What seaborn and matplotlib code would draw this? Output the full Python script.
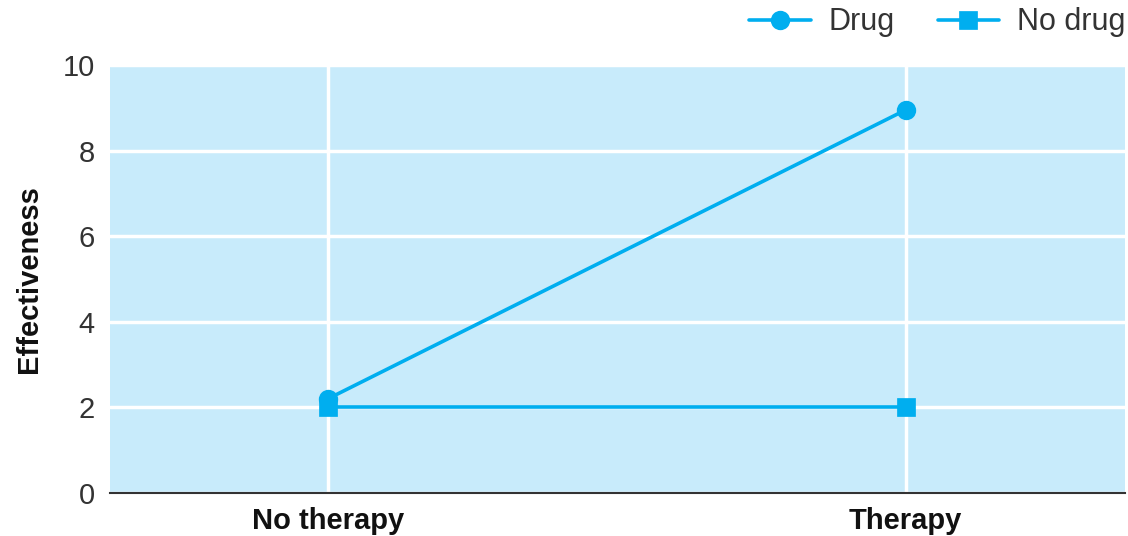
import numpy as np
import pandas as pd
import seaborn as sns
import matplotlib.pyplot as plt

# Date
conditii = ['No therapy', 'Therapy']
grupuri = ['Drug', 'No drug']
valori_drug = [2.2, 8.95]
valori_no_drug = [2.0, 2.0]

df = pd.DataFrame({
    'conditie': conditii * 2,
    'grup': [grupuri[0]] * 2 + [grupuri[1]] * 2,
    'efect': valori_drug + valori_no_drug,
})

sns.set_theme(style='white')
plt.rcParams['font.family'] = ['Liberation Sans', 'DejaVu Sans']

albastru = '#00AEEF'
fundal = '#C8EBFB'

fig = plt.figure(figsize=(11.28, 5.36), dpi=100)
ax = fig.add_axes([0.0975, 0.0802, 0.8995, 0.7985])

sns.pointplot(data=df, x='conditie', y='efect', hue='grup', order=conditii, hue_order=grupuri,
              palette=[albastru, albastru], markers=['o', 's'], linestyles=['-', '-'],
              markersize=12, linewidth=2.6, ax=ax)

ax.set_facecolor(fundal)
ax.set_xlim(-0.377, 1.379)
ax.set_ylim(0, 10)
ax.set_yticks([0, 2, 4, 6, 8, 10])
ax.grid(True, color='white', linewidth=2.5)
ax.set_axisbelow(True)
for s in ['top', 'right', 'left']:
    ax.spines[s].set_visible(False)
ax.spines['bottom'].set_color('#333333')
ax.spines['bottom'].set_linewidth(1.5)
ax.tick_params(axis='y', length=0, pad=11, labelsize=21, labelcolor='#333333')
ax.tick_params(axis='x', length=0, pad=10, labelsize=21, labelcolor='#111111')
for t in ax.get_xticklabels():
    t.set_fontweight('bold')
ax.set_xlabel('')
ax.set_ylabel('Effectiveness', fontsize=21, fontweight='bold', labelpad=14, color='#111111')

leg = ax.legend(loc='center right', bbox_to_anchor=(1.013, 1.1), ncol=2, frameon=False,
                fontsize=22, handlelength=2.0, handletextpad=0.6, columnspacing=1.4,
                borderaxespad=0.0)
for t in leg.get_texts():
    t.set_color('#333333')

fig.savefig('out.png', dpi=100)
